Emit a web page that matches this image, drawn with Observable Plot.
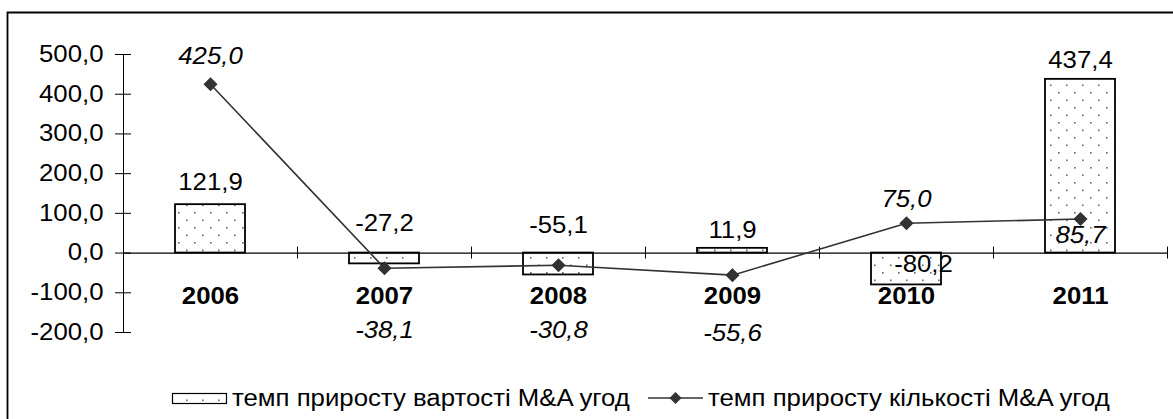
<!DOCTYPE html>
<html><head><meta charset="utf-8">
<script src="https://cdn.jsdelivr.net/npm/d3@7"></script>
<script src="https://cdn.jsdelivr.net/npm/@observablehq/plot@0.6"></script>
<style>
html,body{margin:0;padding:0;background:#fff}
#chart svg{display:block;font-family:"Liberation Sans",Arial,sans-serif}
</style>
</head><body><div id="chart"></div>
<script>
// ---- data ----
const years = ["2006","2007","2008","2009","2010","2011"];
const valueGrowth = [121.9, -27.2, -55.1, 11.9, -80.2, 437.4];   // bars
const countGrowth = [425.0, -38.1, -30.8, -55.6, 75.0, 85.7];    // line
const yTicks = [-200, -100, 0, 100, 200, 300, 400, 500];
const seriesNames = ["темп приросту вартості M&A угод", "темп приросту кількості M&A угод"];

// ---- label layout offsets (px) ----
const barLabelDy = [-22, -29, -27, -18, 12, -19];
const barLabelDx = [0, 0, 0, 0, 17, 0];
const lineLabelDy = [-28, 62, 65, 58, -24, 17];

const fmt = v => v.toFixed(1).replace(".", ",");
const data = years.map((y, i) => ({year: y, v: valueGrowth[i], c: countGrowth[i], i}));

const W = 1173, H = 419;
const FS = 23;
const STRETCH = 1.12;

const chart = Plot.plot({
  width: W, height: H,
  marginLeft: 123, marginRight: 6, marginTop: 54, marginBottom: 87,
  style: {background: "#fff", fontFamily: '"Liberation Sans", Arial, sans-serif', fontSize: FS + "px", color: "#000"},
  x: {domain: years, paddingInner: 0.6, paddingOuter: 0.3, axis: null},
  y: {domain: [-200, 500], axis: null},
  marks: [
    Plot.barY(data, {x: "year", y: "v", fill: "url(#dotsPattern)", stroke: "#000", strokeWidth: 1.8}),
    Plot.axisY(yTicks, {tickSize: 0, tickPadding: 20, tickFormat: fmt, fontSize: FS, fill: "#000"}),
    Plot.ruleY(yTicks, {dx: -8, insetRight: W - 6 - 123 - 16, stroke: "#000", strokeWidth: 1}),
    Plot.ruleX([years[0]], {dx: -87, y1: -200, y2: 500, stroke: "#000", strokeWidth: 1}),
    Plot.ruleY([0], {stroke: "#000", strokeWidth: 1.2}),
    Plot.ruleX(years, {x: d => d, dx: 87, y1: -15, y2: 15, stroke: "#000", strokeWidth: 1}),
    Plot.text(years, {x: d => d, y: () => 0, text: d => d, dy: 44, fontWeight: "bold", fontSize: FS, fill: "#000", lineAnchor: "middle"}),
    Plot.line(data, {x: "year", y: "c", stroke: "#333", strokeWidth: 1.6}),
    Plot.dot(data, {x: "year", y: "c", symbol: "diamond2", r: 5.4, fill: "#333", stroke: "#333"}),
    Plot.text(data, {x: "year", y: d => Math.max(d.v, 0), text: d => fmt(d.v), fontSize: FS, fill: "#000", lineAnchor: "middle"}),
    Plot.text(data, {x: "year", y: "c", text: d => fmt(d.c), fontStyle: "italic", fontSize: FS, fill: "#000", lineAnchor: "middle"})
  ]
});
document.getElementById("chart").appendChild(chart);

const svg = d3.select(chart);
const defs = svg.insert("defs", ":first-child");
const pat = defs.append("pattern").attr("id", "dotsPattern").attr("patternUnits", "userSpaceOnUse")
  .attr("width", 16).attr("height", 15);
pat.append("rect").attr("width", 16).attr("height", 15).attr("fill", "#fff");
pat.append("rect").attr("x", 2).attr("y", 2).attr("width", 1.6).attr("height", 1.6).attr("fill", "#666");
pat.append("rect").attr("x", 10).attr("y", 9.5).attr("width", 1.6).attr("height", 1.6).attr("fill", "#666");

// per-label offsets (layout only)
const textGroups = svg.selectAll("g[aria-label='text']").nodes();
const barTextG = textGroups[textGroups.length - 2];
const lineTextG = textGroups[textGroups.length - 1];
d3.select(barTextG).selectAll("text").each(function(_, i) {
  const t = d3.select(this);
  t.attr("transform", (t.attr("transform") || "") + ` translate(${barLabelDx[i]},${barLabelDy[i]})`);
});
d3.select(lineTextG).selectAll("text").each(function(_, i) {
  const t = d3.select(this);
  t.attr("transform", (t.attr("transform") || "") + ` translate(0,${lineLabelDy[i]})`);
});

// outer border (left and top visible)
svg.append("path").attr("d", `M7.5,${H} V12.5 H${W}`).attr("fill", "none").attr("stroke", "#000").attr("stroke-width", 1.8);

// legend
const lg = svg.append("g").attr("font-size", FS).attr("fill", "#000").attr("text-anchor", "start");
const ly = 398;
lg.append("rect").attr("x", 172.5).attr("y", 393.5).attr("width", 54).attr("height", 10)
  .attr("fill", "url(#dotsPattern)").attr("stroke", "#000").attr("stroke-width", 1.2);
lg.append("text").attr("x", 232).attr("y", ly).attr("dy", "0.35em").text(seriesNames[0]);
lg.append("line").attr("x1", 648).attr("x2", 703).attr("y1", ly).attr("y2", ly).attr("stroke", "#333").attr("stroke-width", 1.6);
lg.append("path").attr("d", d3.symbol(d3.symbolDiamond2, Math.PI * 5.4 * 5.4)()).attr("transform", `translate(675.5,${ly})`).attr("fill", "#333");
lg.append("text").attr("x", 708).attr("y", ly).attr("dy", "0.35em").text(seriesNames[1]);

// widen text horizontally to match the reference's glyph proportions
svg.selectAll("text").each(function() {
  const L = this.getComputedTextLength();
  if (L > 0) {
    this.setAttribute("textLength", (L * STRETCH).toFixed(1));
    this.setAttribute("lengthAdjust", "spacingAndGlyphs");
  }
});
</script>
</body></html>
